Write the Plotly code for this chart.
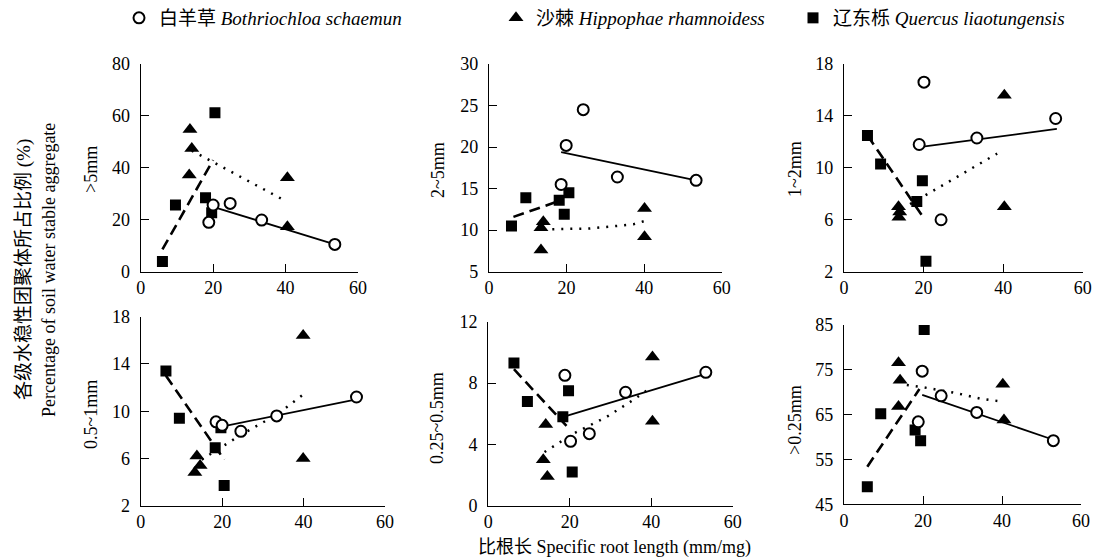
import plotly.graph_objects as go

# page body has an 8px margin: figure is drawn at (8,8) in the 1107x560 window
OFF = 8
W, H = 1107 - OFF, 560 - OFF

# ---------------- data ----------------
species_names = ["白羊草 <i>Bothriochloa schaemun</i>",
                 "沙棘 <i>Hippophae rhamnoidess</i>",
                 "辽东栎 <i>Quercus liaotungensis</i>"]
panel_titles = [">5mm", "2~5mm", "1~2mm", "0.5~1mm", "0.25~0.5mm", ">0.25mm"]
y_ranges = [[0, 80], [5, 30], [2, 18], [2, 18], [0, 12], [45, 85]]
y_ticks = [[0, 20, 40, 60, 80], [5, 10, 15, 20, 25, 30], [2, 6, 10, 14, 18],
           [2, 6, 10, 14, 18], [0, 4, 8, 12], [45, 55, 65, 75, 85]]
x_ticks = [0, 20, 40, 60]
x_title = "比根长 Specific root length (mm/mg)"
y_title_cn = "各级水稳性团聚体所占比例 (%)"
y_title_en = "Percentage of soil water stable aggregate"

# panel 1 (>5mm)
p1_grass_x = [18.8, 20.0, 24.7, 33.4, 53.6]
p1_grass_y = [19.0, 25.7, 26.3, 19.9, 10.5]
p1_shrub_x = [13.6, 14.1, 13.4, 40.5, 40.5]
p1_shrub_y = [54.8, 47.5, 37.2, 36.2, 17.3]
p1_oak_x = [6.0, 9.6, 17.9, 19.6, 20.5]
p1_oak_y = [3.9, 25.7, 28.5, 22.7, 61.2]
p1_grass_fit_x = [20.0, 53.6]
p1_grass_fit_y = [25.0, 10.5]
p1_shrub_fit_x = [14.1, 39.1]
p1_shrub_fit_y = [46.6, 27.9]
p1_oak_fit_x = [6.0, 20.0]
p1_oak_fit_y = [8.6, 43.0]

# panel 2 (2~5mm)
p2_grass_x = [18.6, 19.9, 24.3, 33.1, 53.4]
p2_grass_y = [15.5, 20.2, 24.5, 16.4, 16.0]
p2_shrub_x = [14.0, 13.4, 13.4, 40.1, 40.1]
p2_shrub_y = [11.0, 10.3, 7.6, 12.6, 9.2]
p2_oak_x = [5.8, 9.5, 18.1, 19.4, 20.6]
p2_oak_y = [10.5, 13.9, 13.6, 11.9, 14.5]
p2_grass_fit_x = [18.6, 53.4]
p2_grass_fit_y = [19.4, 16.0]
p2_shrub_fit_x = [14.0, 26.0, 37.2, 40.1]
p2_shrub_fit_y = [10.1, 10.2, 10.7, 11.1]
p2_oak_fit_x = [6.3, 18.0]
p2_oak_fit_y = [11.6, 13.5]

# panel 3 (1~2mm)
p3_grass_x = [18.9, 20.1, 24.4, 33.4, 53.2]
p3_grass_y = [11.8, 16.6, 6.0, 12.3, 13.8]
p3_shrub_x = [13.7, 14.0, 13.8, 40.3, 40.3]
p3_shrub_y = [7.0, 6.6, 6.2, 15.6, 7.0]
p3_oak_x = [5.9, 9.2, 18.3, 19.7, 20.6]
p3_oak_y = [12.5, 10.3, 7.4, 9.0, 2.8]
p3_grass_fit_x = [18.9, 53.5]
p3_grass_fit_y = [11.6, 13.0]
p3_shrub_fit_x = [16.6, 38.5]
p3_shrub_fit_y = [7.2, 11.1]
p3_oak_fit_x = [5.9, 19.9]
p3_oak_fit_y = [12.5, 6.2]

# panel 4 (0.5~1mm)
p4_grass_x = [18.5, 20.0, 24.6, 33.4, 53.0]
p4_grass_y = [9.1, 8.8, 8.3, 9.6, 11.2]
p4_shrub_x = [13.8, 14.6, 13.3, 39.9, 39.9]
p4_shrub_y = [6.2, 5.4, 4.8, 16.4, 6.0]
p4_oak_x = [6.2, 9.5, 18.3, 19.7, 20.5]
p4_oak_y = [13.4, 9.4, 6.9, 8.6, 3.7]
p4_grass_fit_x = [19.9, 53.0]
p4_grass_fit_y = [8.7, 11.0]
p4_shrub_fit_x = [15.0, 24.6, 33.4, 39.9]
p4_shrub_fit_y = [5.9, 8.0, 9.7, 11.4]
p4_oak_fit_x = [6.2, 20.5]
p4_oak_fit_y = [13.0, 5.9]

# panel 5 (0.25~0.5mm)
p5_grass_x = [18.8, 20.2, 24.8, 33.7, 53.4]
p5_grass_y = [8.5, 4.2, 4.7, 7.4, 8.7]
p5_shrub_x = [14.1, 13.5, 14.5, 40.3, 40.3]
p5_shrub_y = [5.3, 3.0, 1.9, 9.7, 5.5]
p5_oak_x = [6.3, 9.6, 18.3, 19.7, 20.6]
p5_oak_y = [9.3, 6.8, 5.8, 7.5, 2.2]
p5_grass_fit_x = [18.4, 53.4]
p5_grass_fit_y = [5.8, 8.6]
p5_shrub_fit_x = [13.8, 20.9, 29.1, 35.6, 39.9]
p5_shrub_fit_y = [3.5, 4.7, 5.8, 6.9, 7.7]
p5_oak_fit_x = [6.3, 19.2]
p5_oak_fit_y = [8.9, 5.2]

# panel 6 (>0.25mm)
p6_grass_x = [18.8, 19.8, 24.6, 33.6, 53.0]
p6_grass_y = [63.4, 74.7, 69.2, 65.5, 59.2]
p6_shrub_x = [13.8, 14.2, 13.8, 40.2, 40.5]
p6_shrub_y = [76.6, 72.7, 66.8, 71.8, 63.8]
p6_oak_x = [5.9, 9.3, 18.0, 19.4, 20.3]
p6_oak_y = [48.9, 65.2, 61.6, 59.2, 84.0]
p6_grass_fit_x = [19.8, 53.0]
p6_grass_fit_y = [69.4, 59.4]
p6_shrub_fit_x = [15.9, 20.1, 28.5, 34.4, 40.2]
p6_shrub_fit_y = [71.6, 71.1, 69.8, 68.6, 67.9]
p6_oak_fit_x = [5.9, 19.1]
p6_oak_fit_y = [53.4, 70.7]

panels = [
    (p1_grass_x, p1_grass_y, p1_shrub_x, p1_shrub_y, p1_oak_x, p1_oak_y,
     p1_grass_fit_x, p1_grass_fit_y, p1_shrub_fit_x, p1_shrub_fit_y, p1_oak_fit_x, p1_oak_fit_y),
    (p2_grass_x, p2_grass_y, p2_shrub_x, p2_shrub_y, p2_oak_x, p2_oak_y,
     p2_grass_fit_x, p2_grass_fit_y, p2_shrub_fit_x, p2_shrub_fit_y, p2_oak_fit_x, p2_oak_fit_y),
    (p3_grass_x, p3_grass_y, p3_shrub_x, p3_shrub_y, p3_oak_x, p3_oak_y,
     p3_grass_fit_x, p3_grass_fit_y, p3_shrub_fit_x, p3_shrub_fit_y, p3_oak_fit_x, p3_oak_fit_y),
    (p4_grass_x, p4_grass_y, p4_shrub_x, p4_shrub_y, p4_oak_x, p4_oak_y,
     p4_grass_fit_x, p4_grass_fit_y, p4_shrub_fit_x, p4_shrub_fit_y, p4_oak_fit_x, p4_oak_fit_y),
    (p5_grass_x, p5_grass_y, p5_shrub_x, p5_shrub_y, p5_oak_x, p5_oak_y,
     p5_grass_fit_x, p5_grass_fit_y, p5_shrub_fit_x, p5_shrub_fit_y, p5_oak_fit_x, p5_oak_fit_y),
    (p6_grass_x, p6_grass_y, p6_shrub_x, p6_shrub_y, p6_oak_x, p6_oak_y,
     p6_grass_fit_x, p6_grass_fit_y, p6_shrub_fit_x, p6_shrub_fit_y, p6_oak_fit_x, p6_oak_fit_y),
]

# ---------------- layout geometry (window pixels) ----------------
dom_px = [
    ((140.7, 358.0), (64.0, 271.7)),
    ((489.0, 721.7), (64.0, 271.7)),
    ((844.0, 1082.7), (64.0, 271.7)),
    ((140.7, 385.0), (316.7, 505.7)),
    ((488.3, 732.7), (321.7, 505.7)),
    ((844.0, 1081.0), (325.0, 504.3)),
]
title_px = [(91, 170), (438, 170), (795, 169), (91, 415), (437, 418), (795, 420)]


def fx_(px):
    return (px - OFF) / W


def fy_(py):
    return 1 - (py - OFF) / H


FONT = "Liberation Serif, Times New Roman, Noto Sans CJK SC, serif"
tickfont = dict(family=FONT, size=18, color="black")

fig = go.Figure()
layout = dict(width=W, height=H, margin=dict(l=0, r=0, t=0, b=0, autoexpand=False),
              paper_bgcolor="white", plot_bgcolor="white", showlegend=True,
              font=dict(family=FONT, size=18, color="black"))

line_styles = [dict(color="black", width=1.8),
               dict(color="black", width=2.5, dash="2px,7px"),
               dict(color="black", width=2.6, dash="11px,6px")]
marker_styles = [dict(symbol="circle", size=11, color="white", line=dict(color="black", width=2)),
                 dict(symbol="triangle-up", size=13, color="black", line=dict(width=0)),
                 dict(symbol="square", size=11, color="black", line=dict(width=0))]
legend_ids = ["legend", "legend2", "legend3"]

annotations = []
for i, p in enumerate(panels):
    k = "" if i == 0 else str(i + 1)
    xa, ya = "x" + k, "y" + k
    (x0, x1), (yt, yb) = dom_px[i]
    layout["xaxis" + k] = dict(domain=[fx_(x0), fx_(x1)], range=[0, 60], tickvals=x_ticks,
                              showline=True, linecolor="black", linewidth=1.2, ticks="inside",
                              ticklen=8, tickwidth=1.2, tickcolor="black", showgrid=False,
                              zeroline=False, tickfont=tickfont, anchor=ya, fixedrange=True)
    layout["yaxis" + k] = dict(domain=[fy_(yb), fy_(yt)], range=y_ranges[i],
                              tickvals=y_ticks[i], showline=True, linecolor="black", linewidth=1.2,
                              ticks="inside", ticklen=8, tickwidth=1.2, tickcolor="black",
                              showgrid=False, zeroline=False, tickfont=tickfont, anchor=xa,
                              fixedrange=True, ticklabelstandoff=6)
    # trend lines
    for s in range(3):
        lx, ly = p[6 + 2 * s], p[7 + 2 * s]
        fig.add_trace(go.Scatter(x=lx, y=ly, mode="lines", line=line_styles[s],
                                 xaxis=xa, yaxis=ya, showlegend=False, hoverinfo="skip"))
    # markers (oak, shrub, grass order so circles sit on top)
    for s in [2, 1, 0]:
        mx, my = p[2 * s], p[2 * s + 1]
        fig.add_trace(go.Scatter(x=mx, y=my, mode="markers", marker=marker_styles[s],
                                 name=species_names[s], xaxis=xa, yaxis=ya,
                                 showlegend=(i == 0), legend=legend_ids[s]))
    tx, ty = title_px[i]
    annotations.append(dict(text=panel_titles[i], x=fx_(tx), y=fy_(ty), xref="paper",
                            yref="paper", showarrow=False, textangle=-90,
                            font=dict(family=FONT, size=18, color="black"),
                            xanchor="center", yanchor="middle"))

annotations.append(dict(text=x_title, x=fx_(614), y=fy_(547), xref="paper", yref="paper",
                        showarrow=False, font=dict(family=FONT, size=18, color="black"),
                        xanchor="center", yanchor="middle"))
annotations.append(dict(text=y_title_cn, x=fx_(24), y=fy_(270), xref="paper", yref="paper",
                        showarrow=False, textangle=-90,
                        font=dict(family=FONT, size=19, color="black"),
                        xanchor="center", yanchor="middle"))
annotations.append(dict(text=y_title_en, x=fx_(49), y=fy_(270), xref="paper", yref="paper",
                        showarrow=False, textangle=-90,
                        font=dict(family=FONT, size=18, color="black"),
                        xanchor="center", yanchor="middle"))
layout["annotations"] = annotations

legend_sym_px = [138, 515, 812]
for s, lid in enumerate(legend_ids):
    layout[lid] = dict(x=fx_(legend_sym_px[s] - 19), y=fy_(18), xanchor="left",
                       yanchor="middle", orientation="h", bgcolor="rgba(0,0,0,0)",
                       borderwidth=0, font=dict(family=FONT, size=19, color="black"),
                       itemclick=False, itemdoubleclick=False)

fig.update_layout(**layout)
fig.write_html("out.html", config={"displayModeBar": False})
